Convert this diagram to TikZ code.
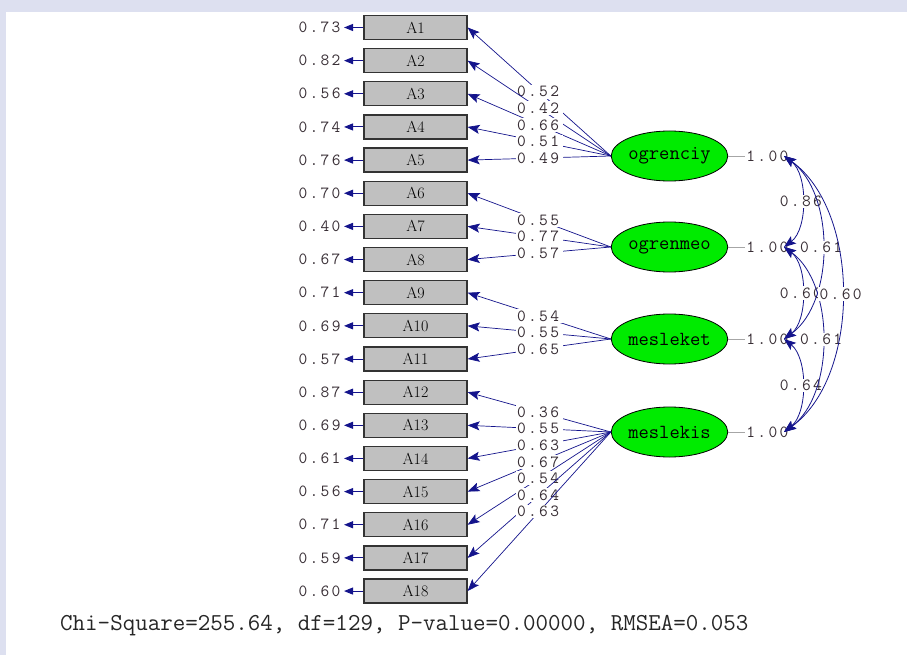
\documentclass[tikz,border=0pt]{standalone}
\usepackage{fontspec}
\usetikzlibrary{arrows.meta,shapes.geometric}
\definecolor{bordercol}{RGB}{221,224,240}
\definecolor{pathcol}{RGB}{20,20,140}
\definecolor{numcol}{RGB}{55,45,52}
\definecolor{boxfill}{RGB}{192,192,192}
\definecolor{latfill}{RGB}{0,235,0}
\newdimen\lsamt
\lsamt=2.3pt
\def\spacedi#1{\ifx#1\relax\else#1\kern\lsamt\expandafter\spacedi\fi}
\newcommand\lsp[1]{\expandafter\spacedi#1\relax}
\newcommand\numfont{\fontsize{17}{17}\selectfont\ttfamily}
\newcommand\fitfont{\fontsize{24.3}{24.3}\selectfont\ttfamily}
\begin{document}
\begin{tikzpicture}[x=1pt,y=-1pt,
  box/.style={draw=black!80, line width=1.2pt, fill=boxfill, minimum width=103pt, minimum height=24pt, inner sep=0pt, font=\fontsize{16}{16}\selectfont},
  latent/.style={ellipse, draw=black, line width=0.8pt, fill=latfill, minimum width=103pt, minimum height=50pt, inner sep=0pt, font=\fontsize{20}{20}\selectfont\ttfamily},
  num/.style={text=numcol, inner sep=1pt, font=\numfont},
  lab/.style={num, fill=white, inner sep=1.5pt},
  load/.style={draw=pathcol, line width=0.7pt, -{Stealth[length=12pt,width=9pt,inset=2.5pt]}},
  err/.style={draw=pathcol, line width=1pt, -{Triangle[length=9pt,width=7pt]}},
  corr/.style={draw=pathcol, line width=0.8pt, {Stealth[length=12pt,width=9pt,inset=2.5pt]}-{Stealth[length=12pt,width=9pt,inset=2.5pt]}},
  varline/.style={draw=black!35, line width=0.7pt}
]
\fill[bordercol] (0,0) rectangle (907,655);
\fill[white] (6,12) rectangle (907,655);
\useasboundingbox (0,0) rectangle (907,655);

\foreach \i/\e in {1/0.73,2/0.82,3/0.56,4/0.74,5/0.76,6/0.70,7/0.40,8/0.67,9/0.71,10/0.69,11/0.57,12/0.87,13/0.69,14/0.61,15/0.56,16/0.71,17/0.59,18/0.60}{
  \node[box] (A\i) at (415.5,{27.5+33.15*(\i-1)}) {A\i};
  \node[num, anchor=east] (E\i) at (344,{27.5+33.15*(\i-1)}) {\lsp{\e}};
  \draw[err] (A\i.west) -- (E\i.east);
}

\node[latent] (L1) at (669.5,156) {ogrenciy};
\node[latent] (L2) at (669.5,247) {ogrenmeo};
\node[latent] (L3) at (669.5,339) {mesleket};
\node[latent] (L4) at (669.5,432) {meslekis};

\foreach \l/\y in {1/156,2/247,3/339,4/432}{
  \node[num] (V\l) at (768.5,\y) {\lsp{1.00}};
  \draw[varline] (L\l.east) -- (V\l.west);
  \coordinate (R\l) at (784,\y);
}

\foreach \l/\i/\v in {1/1/0.52,1/2/0.42,1/3/0.66,1/4/0.51,1/5/0.49,
                      2/6/0.55,2/7/0.77,2/8/0.57,
                      3/9/0.54,3/10/0.55,3/11/0.65,
                      4/12/0.36,4/13/0.55,4/14/0.63,4/15/0.67,4/16/0.54,4/17/0.64,4/18/0.63}{
  \draw[load] (L\l.west) -- node[lab]{\lsp{\v}} (A\i.east);
}

\draw[corr] (R1) .. controls +(24,18) and +(24,-18) .. node[lab]{\lsp{0.86}} (R2);
\draw[corr] (R2) .. controls +(24,18) and +(24,-18) .. node[lab]{\lsp{0.60}} (R3);
\draw[corr] (R3) .. controls +(24,19) and +(24,-19) .. node[lab]{\lsp{0.64}} (R4);
\draw[corr] (R1) .. controls +(51,37) and +(51,-37) .. node[lab]{\lsp{0.61}} (R3);
\draw[corr] (R2) .. controls +(51,37) and +(51,-37) .. node[lab]{\lsp{0.61}} (R4);
\draw[corr] (R1) .. controls +(77,55) and +(77,-55) .. node[lab]{\lsp{0.60}} (R4);

\node[anchor=west, font=\fitfont, text=black!85, inner sep=0pt] (fit) at (60,626) {Chi-Square=255.64, df=129, P-value=0.00000, RMSEA=0.053};
\end{tikzpicture}
\end{document}
